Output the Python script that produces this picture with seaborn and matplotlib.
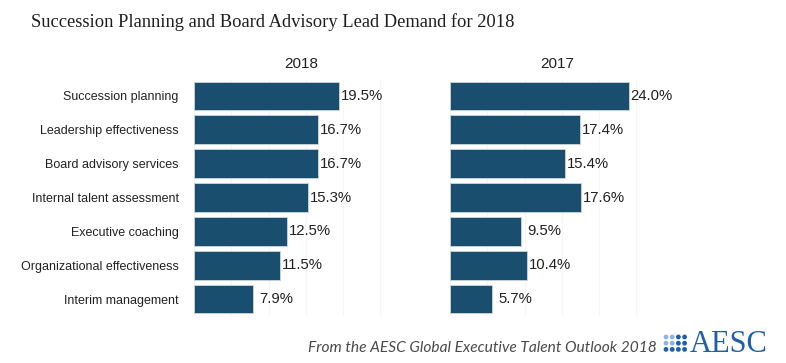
import matplotlib
matplotlib.use("Agg")
import matplotlib.pyplot as plt
import seaborn as sns
import pandas as pd
from matplotlib.patches import Circle
from matplotlib.transforms import IdentityTransform

categories = ["Succession planning", "Leadership effectiveness", "Board advisory services",
              "Internal talent assessment", "Executive coaching",
              "Organizational effectiveness", "Interim management"]
values_2018 = [19.5, 16.7, 16.7, 15.3, 12.5, 11.5, 7.9]
values_2017 = [24.0, 17.4, 15.4, 17.6, 9.5, 10.4, 5.7]
panel_titles = ["2018", "2017"]
title = "Succession Planning and Board Advisory Lead Demand for 2018"
footer = "From the AESC Global Executive Talent Outlook 2018"

sns.set_theme(style="white")
plt.rcParams['font.family'] = ['Liberation Sans', 'DejaVu Sans']

W, H = 786, 363
fig = plt.figure(figsize=(W / 100, H / 100), dpi=100)
fig.patch.set_facecolor("white")

bar_color = "#1a4e6e"
px_per = 7.45
panel_w = 215
xmax = panel_w / px_per
top, bottom = 79, 316
lefts = [194, 450]

for i, (vals, ptitle) in enumerate(zip([values_2018, values_2017], panel_titles)):
    ax = fig.add_axes([lefts[i] / W, 1 - bottom / H, panel_w / W, (bottom - top) / H])
    df = pd.DataFrame({"cat": categories, "val": vals})
    sns.barplot(data=df, x="val", y="cat", ax=ax, color=bar_color, saturation=1,
                width=0.85, edgecolor="#c9d6df", linewidth=0.6, orient="h")
    ax.set_xlim(0, xmax)
    ax.set_ylim(6.5, -0.5)
    ax.set_xlabel("")
    ax.set_ylabel("")
    ax.set_xticks([0, 5, 10, 15, 20, 25])
    ax.xaxis.grid(True, color="#f6f6f6", linewidth=0.8)
    ax.set_axisbelow(True)
    ax.tick_params(axis="x", length=0, labelbottom=False)
    ax.tick_params(axis="y", length=0, pad=11)
    if i == 0:
        ax.set_yticks(range(len(categories)))
        ax.set_yticklabels(categories, fontsize=9.0, color="#222222")
    else:
        ax.set_yticklabels([])
    for s in ax.spines.values():
        s.set_visible(False)
    ax.set_title(ptitle, fontsize=11, color="#222222", pad=8)
    for j, v in enumerate(vals):
        off = 0.25 if v >= 10 else 0.85
        ax.text(v + off, j, f"{v:.1f}%", va="center", ha="left", fontsize=10.7,
                color="#222222")

fig.text(31 / W, 1 - 22 / H, title, fontsize=13.3, family=["Liberation Serif"],
         color="#1e1e1e", va="center", ha="left")
fig.text(657 / W, 1 - 348 / H, footer, fontsize=11.2, style="italic",
         family=["Lato", "DejaVu Sans"], color="#4a4a4a",
         va="center", ha="right")

# AESC logo
light, dark = "#8fb4df", "#1f5fa8"
for r in range(3):
    for c in range(4):
        col = light if (c < 2 and r < 2) else dark
        x = 666 + c * 6.2
        y = 337 + r * 6.2
        fig.patches.append(Circle((x, H - y), 2.4, transform=IdentityTransform(),
                                  facecolor=col, edgecolor="none"))
fig.text(690 / W, 1 - 344 / H, "AESC", fontsize=22, family=["Liberation Serif"],
         color=dark, va="center", ha="left")

fig.savefig("out.png", dpi=100, facecolor="white")
